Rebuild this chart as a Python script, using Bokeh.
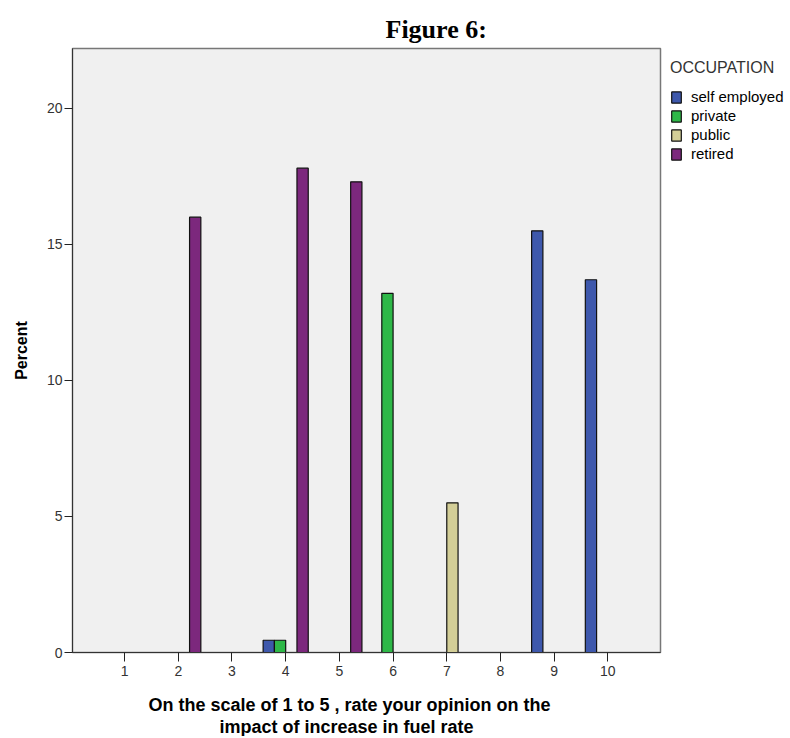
from bokeh.plotting import figure
from bokeh.models import Range1d, Legend, LegendItem, Title, FixedTicker, ColumnDataSource
from bokeh.embed import file_html
from bokeh.resources import INLINE

categories = [1, 2, 3, 4, 5, 6, 7, 8, 9, 10]
series_names = ["self employed", "private", "public", "retired"]
self_employed = [0, 0, 0, 0.45, 0, 0, 0, 0, 15.5, 13.7]
private = [0, 0, 0, 0.45, 0, 13.2, 0, 0, 0, 0]
public = [0, 0, 0, 0, 0, 0, 5.5, 0, 0, 0]
retired = [0, 16.0, 0, 17.8, 17.3, 0, 0, 0, 0, 0]
colors = ["#3E58AC", "#2EB848", "#D3CE97", "#7C287D"]
y_ticks = [0, 5, 10, 15, 20]

p = figure(frame_width=588, frame_height=604, output_backend="svg", toolbar_location=None,
           x_range=Range1d(0.03, 10.98), y_range=Range1d(0, 22.2),
           min_border_left=72, min_border_right=128, min_border_top=48, min_border_bottom=82)
p.background_fill_color = "#F0F0F0"
p.border_fill_color = "white"
p.outline_line_color = "#777777"
p.outline_line_width = 1.5
p.xgrid.visible = False
p.ygrid.visible = False

bar_w = 0.21
offsets = [-0.315, -0.105, 0.105, 0.315]
all_vals = [self_employed, private, public, retired]
renderers = []
for name, vals, col, off in zip(series_names, all_vals, colors, offsets):
    src = ColumnDataSource(dict(x=[c + off for c in categories], top=vals))
    r = p.vbar(x="x", top="top", width=bar_w, bottom=0, source=src,
               fill_color=col, line_color="#111111", line_width=1.2)
    renderers.append((name, r))

for ax in (p.xaxis[0], p.yaxis[0]):
    ax.axis_line_color = "#333333"
    ax.axis_line_width = 1
    ax.major_tick_line_color = "#222222"
    ax.major_tick_in = 0
    ax.minor_tick_out = 0
    ax.minor_tick_in = 0
    ax.major_label_text_font = "Liberation Sans"
    ax.major_label_text_font_size = "14px"
    ax.major_label_text_color = "#333333"

p.xaxis.ticker = FixedTicker(ticks=categories)
p.yaxis.ticker = FixedTicker(ticks=y_ticks)
p.xaxis.major_tick_out = 9
p.yaxis.major_tick_out = 8
p.xaxis.major_label_standoff = 4
p.yaxis.major_label_standoff = 2

p.yaxis.axis_label = "Percent"
p.yaxis.axis_label_text_font = "Liberation Sans"
p.yaxis.axis_label_text_font_style = "bold"
p.yaxis.axis_label_text_font_size = "16px"
p.yaxis.axis_label_text_color = "black"
p.yaxis.axis_label_standoff = 14

# blank spacer label to push the two-line title down
p.xaxis.axis_label = " "
p.xaxis.axis_label_text_font_size = "10px"
p.xaxis.axis_label_standoff = 0

t1 = Title(text="On the scale of 1 to 5 , rate your opinion on the", align="left", offset=76,
           text_font="Liberation Sans", text_font_style="bold", text_font_size="18px",
           text_color="black", standoff=0, text_line_height=0.85)
t2 = Title(text="impact of increase in fuel rate", align="left", offset=147,
           text_font="Liberation Sans", text_font_style="bold", text_font_size="18px",
           text_color="black", standoff=0, text_line_height=0.85)
p.add_layout(t1, "below")
p.add_layout(t2, "below")

p.title = Title(text="Figure 6:", align="left", offset=313,
                text_font="Liberation Serif", text_font_style="bold",
                text_font_size="26px", text_color="black")

legend = Legend(items=[LegendItem(label=n, renderers=[r]) for n, r in renderers],
                location=(10, 490), title="OCCUPATION",
                title_text_font="Liberation Sans", title_text_font_size="16px",
                title_text_font_style="normal", title_text_color="#333333",
                title_standoff=11,
                label_text_font="Liberation Sans", label_text_font_size="15px",
                label_text_color="black", label_standoff=9,
                glyph_width=12, glyph_height=14, spacing=2, padding=0, margin=0,
                border_line_color=None, background_fill_alpha=0)
p.add_layout(legend, "right")

open("out.html", "w").write(file_html(p, INLINE))
